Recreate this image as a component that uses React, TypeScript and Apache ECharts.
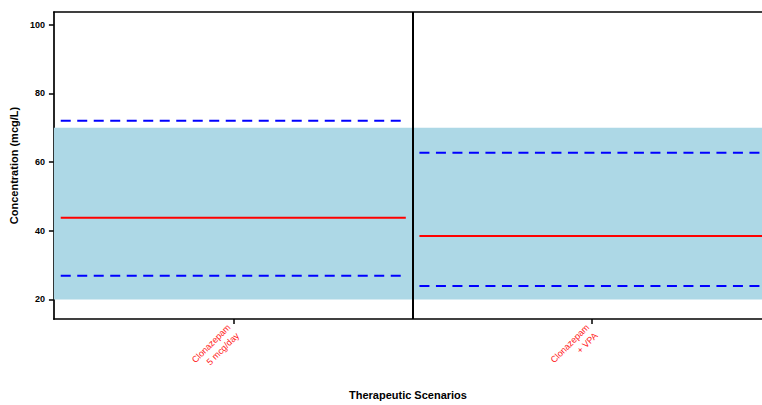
import React, { useEffect, useRef } from "react";
import * as echarts from "echarts";

const scenarios = ["Clonazepam\n5 mcg/day", "Clonazepam\n+ VPA"];
const medians = [43.8, 38.5];
const upperBounds = [72.0, 62.7];
const lowerBounds = [26.9, 23.9];
const rangeLow = 20;
const rangeHigh = 70;
const yTicks = [20, 40, 60, 80, 100];
const xTitle = "Therapeutic Scenarios";
const yTitle = "Concentration (mcg/L)";

const FONT = "'Liberation Sans', Arial, Helvetica, sans-serif";
const HALF = 0.481;

export default function App() {
  const ref = useRef<HTMLDivElement>(null);
  useEffect(() => {
    if (!ref.current) return;
    const chart = echarts.init(ref.current, undefined, { renderer: "svg" });
    const segSeries: any[] = [];
    const mk = (vals: number[], color: string, dashed: boolean, name: string) => {
      vals.forEach((v, i) => {
        const x = i + 1;
        segSeries.push({
          type: "line",
          name,
          data: [
            [x - HALF, v],
            [x + HALF, v],
          ],
          symbol: "none",
          z: 3,
          lineStyle: {
            color,
            width: 2,
            type: dashed ? [10, 6.5] : "solid",
            cap: "butt",
          },
        });
      });
    };
    mk(medians, "#FF0000", false, "median");
    mk(upperBounds, "#0000FF", true, "upper");
    mk(lowerBounds, "#0000FF", true, "lower");

    chart.setOption({
      animation: false,
      backgroundColor: "#FFFFFF",
      textStyle: { fontFamily: FONT },
      grid: { left: 53, top: 12, right: 0, bottom: 83 },
      xAxis: [
        {
          type: "value",
          min: 0.5,
          max: 2.474,
          position: "bottom",
          splitLine: { show: false },
          axisLine: { show: true, lineStyle: { color: "#000", width: 1.7 } },
          axisTick: {
            show: true,
            customValues: [1, 2],
            length: 5,
            lineStyle: { color: "#000", width: 1.5 },
          },
          axisLabel: {
            customValues: [1, 2],
            rotate: 45,
            color: "#FF2020",
            fontSize: 9,
            fontFamily: FONT,
            margin: 11,
            lineHeight: 12,
            formatter: (v: number) => scenarios[Math.round(v) - 1] ?? "",
          },
          name: xTitle,
          nameLocation: "middle",
          nameGap: 70,
          nameTextStyle: { fontSize: 11, fontWeight: "bold", color: "#000", fontFamily: FONT },
        },
        {
          type: "value",
          min: 0.5,
          max: 2.474,
          position: "top",
          splitLine: { show: false },
          axisLine: { show: true, lineStyle: { color: "#000", width: 1.7 } },
          axisTick: { show: false },
          axisLabel: { show: false },
        },
      ],
      yAxis: {
        type: "value",
        min: 14.3,
        max: 103.7,
        splitLine: { show: false },
        axisLine: { show: true, lineStyle: { color: "#000", width: 1.7 } },
        axisTick: {
          show: true,
          customValues: yTicks,
          length: 5,
          lineStyle: { color: "#000", width: 1.5 },
        },
        axisLabel: {
          customValues: yTicks,
          color: "#000",
          fontSize: 9,
          fontWeight: "bold",
          fontFamily: FONT,
          margin: 9,
        },
        name: yTitle,
        nameLocation: "middle",
        nameGap: 32,
        nameTextStyle: { fontSize: 11, fontWeight: "bold", color: "#000", fontFamily: FONT },
      },
      series: [
        {
          type: "line",
          name: "band",
          data: [],
          z: 1,
          markArea: {
            silent: true,
            itemStyle: { color: "#ADD8E6", opacity: 1 },
            data: [[{ yAxis: rangeLow }, { yAxis: rangeHigh }]],
          },
          markLine: {
            silent: true,
            symbol: "none",
            label: { show: false },
            lineStyle: { color: "#000", width: 2, type: "solid" },
            data: [{ xAxis: 1.5 }],
            z: 5,
          },
        },
        ...segSeries,
      ],
    });
    return () => chart.dispose();
  }, []);
  return (
    <div
      ref={ref}
      style={{ position: "fixed", left: 0, top: 0, width: 762, height: 405 }}
    />
  );
}
